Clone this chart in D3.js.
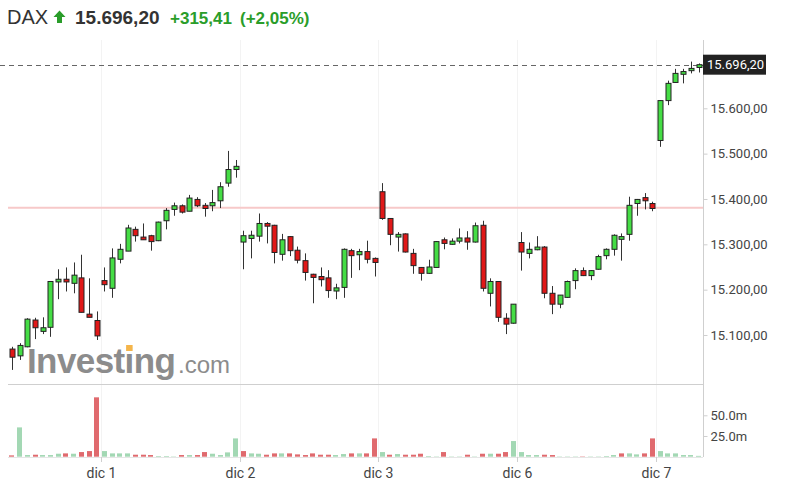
<!DOCTYPE html>
<html><head><meta charset="utf-8">
<script src="https://cdn.jsdelivr.net/npm/d3@7"></script>
<style>body{margin:0;background:#fff}svg{display:block}</style>
</head><body><svg id="chart" width="789" height="486"></svg>
<script>
// ---------- data ----------
const dayLabels = ["30 nov", "dic 1", "dic 2", "dic 3", "dic 6", "dic 7"];
const sessionTimes = ["09:00","09:30","10:00","10:30","11:00","11:30","12:00","12:30","13:00","13:30","14:00","14:30","15:00","15:30","16:00","16:30","17:00","17:30"];
const candlesPerDay = [12, 18, 18, 18, 18, 6];

const open = [15069,15054,15074,15133,15108,15117,15217,15223,15214,15226,15146,15132,
  15220,15203,15267,15285,15333,15316,15319,15308,15352,15377,15385,15373,15399,15386,15385,15396,15435,15465,
  15305,15313,15318,15346,15342,15278,15317,15287,15264,15234,15229,15226,15197,15205,15286,15277,15284,15269,
  15416,15357,15316,15323,15280,15249,15236,15249,15310,15300,15307,15314,15305,15342,15192,15218,15137,15126,
  15304,15280,15288,15294,15192,15168,15183,15220,15242,15231,15245,15275,15289,15311,15322,15390,15403,15390,
  15529,15617,15657,15675,15683,15690];
const high = [15074,15082,15137,15138,15139,15219,15245,15249,15260,15277,15225,15152,
  15249,15291,15301,15343,15339,15346,15321,15350,15380,15392,15388,15409,15404,15391,15420,15437,15506,15486,
  15330,15330,15368,15349,15343,15323,15318,15295,15280,15235,15249,15243,15213,15291,15290,15290,15308,15271,
  15435,15358,15327,15324,15290,15250,15266,15307,15315,15313,15335,15329,15348,15352,15225,15219,15148,15168,
  15327,15304,15318,15296,15208,15188,15220,15247,15249,15243,15277,15291,15322,15324,15405,15400,15413,15394,
  15618,15661,15687,15687,15703,15699];
const low = [15023,15045,15073,15091,15102,15096,15179,15196,15192,15150,15139,15089,
  15196,15182,15258,15285,15306,15310,15286,15307,15333,15363,15368,15373,15382,15361,15373,15380,15427,15447,
  15245,15269,15306,15302,15258,15264,15274,15258,15220,15170,15207,15182,15179,15182,15226,15243,15258,15229,
  15354,15298,15284,15282,15235,15220,15235,15249,15289,15299,15302,15288,15304,15196,15163,15129,15102,15125,
  15242,15269,15287,15181,15146,15159,15182,15201,15230,15221,15244,15267,15275,15264,15308,15363,15377,15373,
  15515,15607,15656,15655,15677,15679];
const close = [15051,15077,15135,15116,15116,15218,15223,15217,15232,15150,15139,15098,
  15211,15270,15289,15336,15319,15310,15306,15349,15375,15385,15371,15402,15385,15379,15392,15427,15465,15472,
  15319,15320,15346,15340,15282,15310,15286,15265,15238,15227,15222,15198,15204,15289,15275,15284,15267,15260,
  15357,15322,15322,15283,15253,15236,15250,15306,15302,15307,15314,15305,15341,15203,15218,15139,15124,15168,
  15283,15289,15294,15192,15168,15188,15218,15242,15231,15242,15273,15289,15320,15317,15386,15399,15396,15379,
  15617,15655,15677,15681,15688,15696.2];
// volume in millions
const volume = [1.6,35.4,2.0,2.4,2.0,2.0,3.6,4.0,3.6,5.6,6.8,71.7,
  6.8,4.0,4.0,4.0,2.4,2.4,2.0,0.8,0.8,0.4,2.0,2.0,2.0,5.6,3.6,2.0,5.2,22.1,
  6.8,4.0,3.6,2.4,4.0,4.0,4.0,2.8,2.0,4.0,2.4,2.4,2.0,3.2,4.0,4.0,4.0,22.1,
  5.6,2.4,3.2,2.4,2.4,3.6,0.8,0.4,5.6,0.4,0.4,2.4,0.4,3.6,3.6,3.6,5.6,18.9,
  5.6,2.0,2.0,2.4,2.0,0.4,0.4,0.4,0.4,0.4,0.4,0.8,2.0,4.0,4.0,2.8,4.0,22.1,
  6.8,4.0,4.0,2.0,2.0,1.0];

const priceTicks = [15100, 15200, 15300, 15400, 15500, 15600];
const volumeTicks = [25, 50];
const instrument = "DAX";
const lastPrice = 15696.20, change = 315.41, changePct = 2.05, prevClose = 15380.79;

// categories (candle timestamps)
const categories = [];
const dayStartIndex = [];
dayLabels.forEach((d, di) => {
  const n = candlesPerDay[di];
  const times = di === 0 ? sessionTimes.slice(sessionTimes.length - n) : sessionTimes.slice(0, n);
  dayStartIndex.push(categories.length);
  times.forEach(t => categories.push(d + " " + t));
});
const candles = categories.map((c, i) => ({cat: c, o: open[i], h: high[i], l: low[i], c: close[i], v: volume[i],
  up: i === 0 ? close[i] >= open[i] : close[i] >= close[i - 1]}));

// ---------- layout ----------
const W = 789, H = 486;
const plotL = 8, plotR = 703;
const priceTop = 40, priceBottom = 384;
const volTop = 384, volBottom = 457;

const locale = d3.formatLocale({decimal: ",", thousands: ".", grouping: [3], currency: ["", ""]});
const fmtPrice = locale.format(",.2f");

const svg = d3.select("#chart");

const x = d3.scaleBand().domain(categories).range([plotL, plotR - 0.5]).padding(0);
const y = d3.scaleLinear().domain([15100, 15600]).range([335, 108.3]);
const yv = d3.scaleLinear().domain([0, 25]).range([456.7, 436.0]);

// ---------- header ----------
const hdr = svg.append("g").attr("font-family", "'Liberation Sans', Arial, sans-serif");
hdr.append("text").attr("x", 7).attr("y", 24).attr("font-size", 20).attr("fill", "#333").text(instrument);
hdr.append("path").attr("d", "M59.5,10.5 L65.5,17 L62,17 L62,23 L57,23 L57,17 L53.5,17 Z").attr("fill", "#2a9d2a");
hdr.append("text").attr("x", 75).attr("y", 24).attr("font-size", 19).attr("font-weight", "bold").attr("fill", "#333")
  .text(fmtPrice(lastPrice));
hdr.append("text").attr("x", 170).attr("y", 24).attr("font-size", 17).attr("font-weight", "bold").attr("fill", "#2a9d2a")
  .text("+" + fmtPrice(change));
hdr.append("text").attr("x", 240).attr("y", 24).attr("font-size", 17).attr("font-weight", "bold").attr("fill", "#2a9d2a")
  .text("(+" + fmtPrice(changePct) + "%)");

// ---------- grid ----------
const grid = svg.append("g");
dayStartIndex.slice(1).forEach(i => {
  grid.append("line").attr("x1", Math.round(x(categories[i])) + 0.5).attr("x2", Math.round(x(categories[i])) + 0.5)
    .attr("y1", priceTop).attr("y2", volBottom).attr("stroke", "#f3f3f3");
});

// ---------- watermark ----------
const wm = svg.append("g").attr("font-family", "'Liberation Sans', Arial, sans-serif").attr("fill", "#8c8c8c");
const wmText = wm.append("text").attr("x", 27).attr("y", 373).attr("font-size", 35).attr("font-weight", "bold")
  .attr("letter-spacing", -0.6).text("Investing");
wm.append("text").attr("x", 178).attr("y", 373).attr("font-size", 24).text(".com");
try {
  const r = wmText.node().getExtentOfChar(6);
  wm.append("rect").attr("x", r.x + r.width / 2 - 3).attr("y", 345).attr("width", 6.5).attr("height", 6)
    .attr("fill", "#f5b54a");
} catch (e) {}

// ---------- prev close line ----------
svg.append("line").attr("x1", plotL).attr("x2", plotR).attr("y1", y(prevClose)).attr("y2", y(prevClose))
  .attr("stroke", "#f7c9c9").attr("stroke-width", 2);

// ---------- last price dashed line ----------
svg.append("line").attr("x1", 0).attr("x2", plotR).attr("y1", Math.round(y(lastPrice)) + 0.5).attr("y2", Math.round(y(lastPrice)) + 0.5)
  .attr("stroke", "#666").attr("stroke-dasharray", "5,4");

// ---------- candles ----------
const bw = 5;
const cg = svg.append("g");
candles.forEach(d => {
  const cx = Math.round(x(d.cat) + x.bandwidth() / 2) + 0.5;
  cg.append("line").attr("x1", cx).attr("x2", cx).attr("y1", y(d.h)).attr("y2", y(d.l))
    .attr("stroke", "#333").attr("stroke-width", 1);
  const top = y(Math.max(d.o, d.c)), bot = y(Math.min(d.o, d.c));
  const hgt = Math.max(2, bot - top);
  cg.append("rect").attr("x", cx - bw / 2 - 0.5 + 0.5).attr("y", top).attr("width", bw).attr("height", hgt)
    .attr("fill", d.c >= d.o ? "#45dd45" : "#e01818").attr("stroke", "#222").attr("stroke-width", 1);
});

// ---------- volume ----------
const vg = svg.append("g");
svg.append("line").attr("x1", plotL).attr("x2", plotR).attr("y1", volTop + 0.5).attr("y2", volTop + 0.5).attr("stroke", "#cfcfcf");
candles.forEach(d => {
  const cx = x(d.cat) + x.bandwidth() / 2;
  vg.append("rect").attr("x", Math.round(cx - 2.5)).attr("y", yv(d.v)).attr("width", 5).attr("height", yv(0) - yv(d.v))
    .attr("fill", d.up ? "#a3d8b4" : "#e06a6e");
});
svg.append("line").attr("x1", plotL).attr("x2", plotR).attr("y1", volBottom + 0.5).attr("y2", volBottom + 0.5).attr("stroke", "#e6e6e6");

// ---------- right axes ----------
svg.append("line").attr("x1", plotR + 0.5).attr("x2", plotR + 0.5).attr("y1", priceTop).attr("y2", volBottom).attr("stroke", "#cfcfcf");
const yAxis = d3.axisRight(y).tickValues(priceTicks).tickFormat(fmtPrice).tickSize(4).tickPadding(3);
const ya = svg.append("g").attr("transform", `translate(${plotR + 0.5},0)`).call(yAxis);
ya.select(".domain").remove();
ya.selectAll("line").attr("stroke", "#cfcfcf");
ya.selectAll("text").attr("font-family", "Roboto, 'Liberation Sans', sans-serif").attr("font-size", 13).attr("fill", "#444");

const vAxis = d3.axisRight(yv).tickValues(volumeTicks).tickFormat(d => d3.format(".1f")(d) + "m").tickSize(4).tickPadding(3);
const va = svg.append("g").attr("transform", `translate(${plotR + 0.5},0)`).call(vAxis);
va.select(".domain").remove();
va.selectAll("line").attr("stroke", "#cfcfcf");
va.selectAll("text").attr("font-family", "Roboto, 'Liberation Sans', sans-serif").attr("font-size", 13).attr("fill", "#444");

// last price label
const ly = y(lastPrice);
svg.append("rect").attr("x", plotR).attr("y", ly - 10).attr("width", 63).attr("height", 20).attr("fill", "#222");
svg.append("text").attr("x", plotR + 4).attr("y", ly).attr("dy", "0.35em").attr("font-family", "Roboto, 'Liberation Sans', sans-serif")
  .attr("font-size", 13).attr("fill", "#fff").text(fmtPrice(lastPrice));

// ---------- x axis ----------
const xg = svg.append("g").attr("font-family", "Roboto, 'Liberation Sans', sans-serif");
dayStartIndex.forEach((idx, di) => {
  if (di === 0) return;
  const tx = Math.round(x(categories[idx])) + 0.5;
  xg.append("line").attr("x1", tx).attr("x2", tx).attr("y1", volBottom).attr("y2", volBottom + 5).attr("stroke", "#cfcfcf");
  xg.append("text").attr("x", tx).attr("y", 478).attr("text-anchor", "middle").attr("font-size", 14).attr("fill", "#444")
    .text(dayLabels[di]);
});
</script></body></html>
